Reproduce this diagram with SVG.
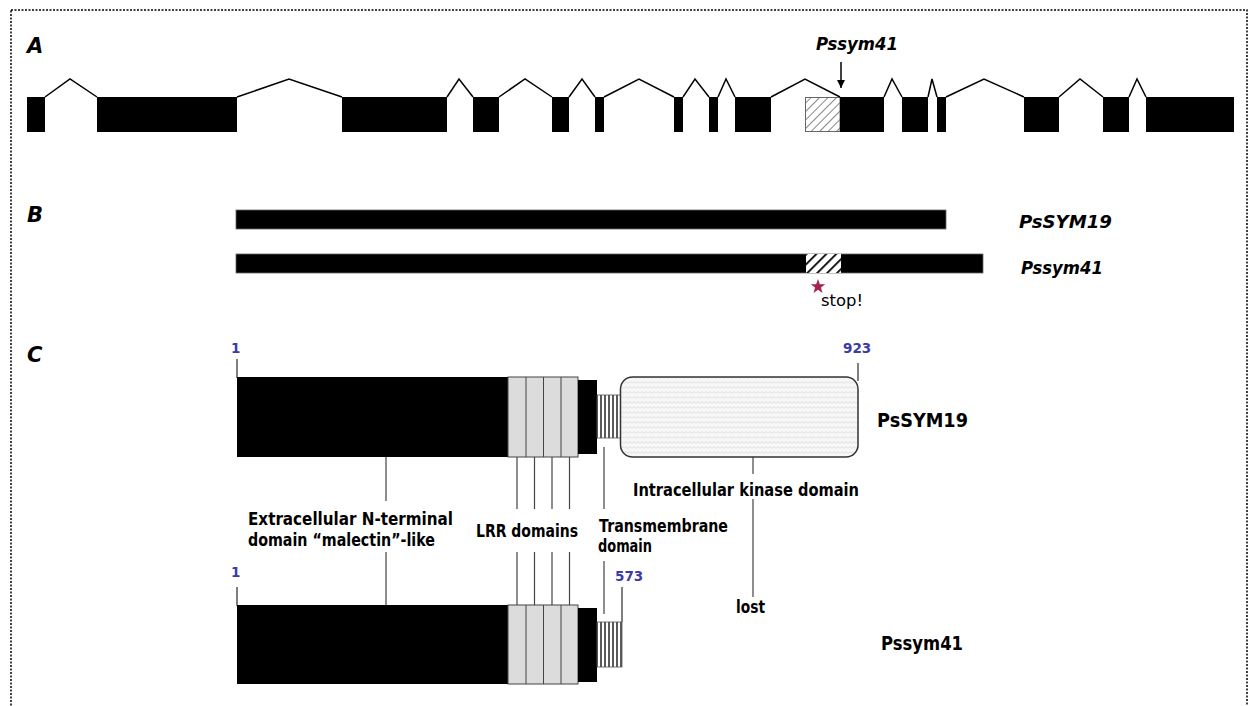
<svg xmlns="http://www.w3.org/2000/svg" width="1256" height="706" viewBox="0 0 1256 706">
<defs>
<style>
.ex{fill:#000}
.intr{fill:none;stroke:#000;stroke-width:1.5;stroke-linejoin:miter}
.lbl{font-family:"DejaVu Sans",sans-serif;font-weight:bold;fill:#000;font-size:17px}
.pl{font-family:"DejaVu Sans",sans-serif;font-weight:bold;font-style:italic;font-size:21px;fill:#000}
.gn{font-family:"DejaVu Sans",sans-serif;font-weight:bold;font-style:italic;font-size:17px;fill:#000}
.num{font-family:"DejaVu Sans",sans-serif;font-weight:bold;font-size:13.5px;fill:#3a3aa8}
.ld{stroke:#444;stroke-width:1.2;fill:none}
.tick{stroke:#555;stroke-width:1.5}
</style>
<pattern id="hatchA" patternUnits="userSpaceOnUse" width="6" height="6" patternTransform="rotate(45)">
<rect width="6" height="6" fill="#fff"/>
<line x1="0" y1="0" x2="0" y2="6" stroke="#888" stroke-width="2"/>
</pattern>
<pattern id="hatchB" patternUnits="userSpaceOnUse" width="7" height="7" patternTransform="rotate(45)">
<rect width="7" height="7" fill="#fff"/>
<line x1="0" y1="0" x2="0" y2="7" stroke="#000" stroke-width="3.5"/>
</pattern>
<pattern id="vstripe" patternUnits="userSpaceOnUse" width="4" height="4">
<rect width="4" height="4" fill="#fff"/>
<line x1="1" y1="0" x2="1" y2="4" stroke="#000" stroke-width="1.3"/>
</pattern>
<pattern id="wave" patternUnits="userSpaceOnUse" width="8" height="5">
<rect width="8" height="5" fill="#f7f7f7"/>
<path d="M0 3.5 L2 1.5 L4 3.5 L6 1.5 L8 3.5" fill="none" stroke="#d4d4d4" stroke-width="0.8"/>
</pattern>
<marker id="arr" markerWidth="10" markerHeight="10" refX="9" refY="5" orient="auto" markerUnits="userSpaceOnUse">
<path d="M1 1 L9 5 L1 9 Z" fill="#000"/>
</marker>
</defs>
<rect width="1256" height="706" fill="#fff"/>
<rect x="11" y="10" width="1236" height="720" fill="none" stroke="#000" stroke-width="1.5" stroke-dasharray="2 1.5"/>

<g id="panelA">
<text class="pl" x="27" y="53">A</text>
<g id="exons">
<rect class="ex" x="27" y="97" width="18" height="35"/>
<rect class="ex" x="97" y="97" width="140" height="35"/>
<rect class="ex" x="342" y="97" width="105" height="35"/>
<rect class="ex" x="473" y="97" width="26" height="35"/>
<rect class="ex" x="552" y="97" width="17" height="35"/>
<rect class="ex" x="595" y="97" width="9" height="35"/>
<rect class="ex" x="674" y="97" width="9" height="35"/>
<rect class="ex" x="709" y="97" width="9" height="35"/>
<rect class="ex" x="735" y="97" width="36" height="35"/>
<rect x="805.5" y="97.5" width="34.5" height="34" fill="url(#hatchA)" stroke="#666" stroke-width="1"/>
<rect class="ex" x="840" y="97" width="44" height="35"/>
<rect class="ex" x="902" y="97" width="26" height="35"/>
<rect class="ex" x="937" y="97" width="9" height="35"/>
<rect class="ex" x="1024" y="97" width="35" height="35"/>
<rect class="ex" x="1103" y="97" width="26" height="35"/>
<rect class="ex" x="1146" y="97" width="88" height="35"/>
</g>
<g id="introns">
<polyline class="intr" points="45,97 70,79 97,97"/>
<polyline class="intr" points="237,97 289,79 342,97"/>
<polyline class="intr" points="447,97 459,79 473,97"/>
<polyline class="intr" points="499,97 525,79 552,97"/>
<polyline class="intr" points="569,97 582,79 595,97"/>
<polyline class="intr" points="604,97 639,79 674,97"/>
<polyline class="intr" points="683,97 695,79 709,97"/>
<polyline class="intr" points="718,97 726,79 735,97"/>
<polyline class="intr" points="771,97 805,79 840,97"/>
<polyline class="intr" points="884,97 892,79 902,97"/>
<polyline class="intr" points="928,97 932,79 937,97"/>
<polyline class="intr" points="946,97 984,79 1024,97"/>
<polyline class="intr" points="1059,97 1080,79 1103,97"/>
<polyline class="intr" points="1129,97 1137,79 1146,97"/>
</g>
<text class="gn" x="816" y="50" textLength="82" lengthAdjust="spacingAndGlyphs">Pssym41</text>
<line x1="841" y1="62" x2="841" y2="88" stroke="#000" stroke-width="1.5" marker-end="url(#arr)"/>
</g>

<g id="panelB">
<text class="pl" x="27" y="222">B</text>
<g id="barPsSYM19">
<rect x="236" y="210" width="710" height="19" fill="#000" stroke="#666" stroke-width="0.8"/>
<text class="gn" x="1019" y="228" textLength="93" lengthAdjust="spacingAndGlyphs">PsSYM19</text>
</g>
<g id="barPssym41">
<rect x="236" y="254" width="747" height="19" fill="#000" stroke="#666" stroke-width="0.8"/>
<rect x="806" y="254" width="35" height="19" fill="url(#hatchB)"/>
<text class="gn" x="1021" y="274" textLength="82" lengthAdjust="spacingAndGlyphs">Pssym41</text>
<path d="M818 279 L819.8 284.2 L825.3 284.3 L820.9 287.6 L822.5 292.9 L818 289.8 L813.5 292.9 L815.1 287.6 L810.7 284.3 L816.2 284.2 Z" fill="#a3224e"/>
<text x="821" y="306" font-family="DejaVu Sans, sans-serif" font-size="15" fill="#000" textLength="42" lengthAdjust="spacingAndGlyphs">stop!</text>
</g>
</g>

<g id="panelC">
<text class="pl" x="27" y="362">C</text>
<g id="connectors">
<line class="ld" x1="386" y1="447" x2="386" y2="501"/>
<line class="ld" x1="386" y1="552" x2="386" y2="614"/>
<line class="ld" x1="517" y1="447" x2="517" y2="509"/>
<line class="ld" x1="534.5" y1="447" x2="534.5" y2="509"/>
<line class="ld" x1="552" y1="447" x2="552" y2="509"/>
<line class="ld" x1="569.5" y1="447" x2="569.5" y2="509"/>
<line class="ld" x1="517" y1="552" x2="517" y2="614"/>
<line class="ld" x1="534.5" y1="552" x2="534.5" y2="614"/>
<line class="ld" x1="552" y1="552" x2="552" y2="614"/>
<line class="ld" x1="569.5" y1="552" x2="569.5" y2="614"/>
<line class="ld" x1="604" y1="447" x2="604" y2="509"/>
<line class="ld" x1="604" y1="561" x2="604" y2="614"/>
<line class="ld" x1="753" y1="437" x2="753" y2="474"/>
<line class="ld" x1="753" y1="499" x2="753" y2="597"/>
</g>
<g id="protPsSYM19">
<text class="num" x="231" y="353">1</text>
<line class="tick" x1="237" y1="359" x2="237" y2="378"/>
<rect x="237" y="377" width="271" height="80" fill="#000"/>
<rect x="508" y="377" width="70" height="80" fill="#dcdcdc" stroke="#444" stroke-width="1"/>
<line x1="526" y1="377" x2="526" y2="457" stroke="#444" stroke-width="1"/>
<line x1="543.5" y1="377" x2="543.5" y2="457" stroke="#444" stroke-width="1"/>
<line x1="561" y1="377" x2="561" y2="457" stroke="#444" stroke-width="1"/>
<rect x="578" y="380" width="19" height="74" fill="#000"/>
<rect x="597" y="395" width="24" height="43" fill="url(#vstripe)" stroke="#555" stroke-width="0.8"/>
<rect x="620.5" y="377" width="237.5" height="80" rx="12" fill="url(#wave)" stroke="#333" stroke-width="1.5"/>
<text class="num" x="843" y="353">923</text>
<line class="tick" x1="858" y1="363" x2="858" y2="381"/>
<text x="877" y="427" font-family="DejaVu Sans, sans-serif" font-weight="bold" font-size="19" fill="#000" textLength="91" lengthAdjust="spacingAndGlyphs">PsSYM19</text>
</g>
<g id="protPssym41">
<text class="num" x="231" y="577">1</text>
<line class="tick" x1="237" y1="587" x2="237" y2="606"/>
<rect x="237" y="605" width="271" height="79" fill="#000"/>
<rect x="508" y="605" width="70" height="79" fill="#dcdcdc" stroke="#444" stroke-width="1"/>
<line x1="526" y1="605" x2="526" y2="684" stroke="#444" stroke-width="1"/>
<line x1="543.5" y1="605" x2="543.5" y2="684" stroke="#444" stroke-width="1"/>
<line x1="561" y1="605" x2="561" y2="684" stroke="#444" stroke-width="1"/>
<rect x="578" y="608" width="19" height="74" fill="#000"/>
<rect x="597" y="622" width="25" height="45" fill="url(#vstripe)" stroke="#555" stroke-width="0.8"/>
<text class="num" x="615" y="581">573</text>
<line class="tick" x1="622" y1="587" x2="622" y2="622"/>
<text x="881" y="650" font-family="DejaVu Sans, sans-serif" font-weight="bold" font-size="19" fill="#000" textLength="82" lengthAdjust="spacingAndGlyphs">Pssym41</text>
</g>
<g id="labels">
<text class="lbl" x="248" y="525" textLength="205" lengthAdjust="spacingAndGlyphs">Extracellular N-terminal</text>
<text class="lbl" x="248" y="546" textLength="187" lengthAdjust="spacingAndGlyphs">domain “malectin”-like</text>
<text class="lbl" x="476" y="537" textLength="102" lengthAdjust="spacingAndGlyphs">LRR domains</text>
<text class="lbl" x="599" y="532" textLength="129" lengthAdjust="spacingAndGlyphs">Transmembrane</text>
<text class="lbl" x="598" y="552" textLength="54" lengthAdjust="spacingAndGlyphs">domain</text>
<text class="lbl" x="633" y="496" textLength="226" lengthAdjust="spacingAndGlyphs">Intracellular kinase domain</text>
<text class="lbl" x="736" y="613" textLength="29" lengthAdjust="spacingAndGlyphs">lost</text>
</g>
</g>
</svg>
